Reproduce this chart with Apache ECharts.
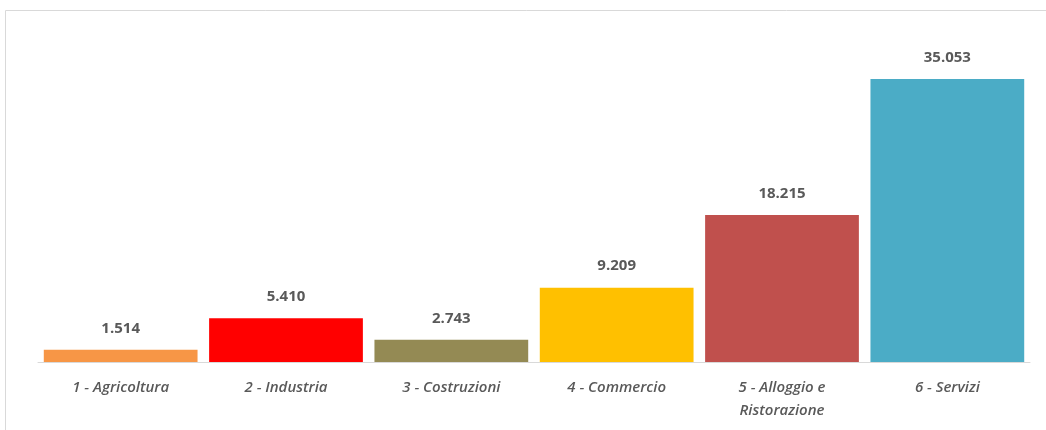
<!DOCTYPE html>
<html>
<head>
<meta charset="utf-8">
<script src="https://cdn.jsdelivr.net/npm/echarts@6/dist/echarts.min.js"></script>
<style>
  html, body { margin: 0; padding: 0; background: #fff; }
  #chart { width: 1046px; height: 430px; }
</style>
</head>
<body>
<div id="chart"></div>
<script>
var categories = ['1 - Agricoltura', '2 - Industria', '3 - Costruzioni', '4 - Commercio', '5 - Alloggio e\nRistorazione', '6 - Servizi'];
var values = [1514, 5410, 2743, 9209, 18215, 35053];
var colors = ['#F79646', '#FF0000', '#948A54', '#FFC000', '#C0504D', '#4BACC6'];

// thousands with a dot, as in the original
function fmt(v) {
    return String(v).replace(/\B(?=(\d{3})+(?!\d))/g, '.');
}

var option = {
    animation: false,
    grid: {left: 38, right: 16, top: 39, bottom: 68},
    graphic: [
        {
            type: 'rect',
            shape: {x: 5.5, y: 10.5, width: 1200, height: 600},
            style: {fill: 'none', stroke: '#d9d9d9', lineWidth: 1},
            silent: true
        }
    ],
    xAxis: {
        type: 'category',
        data: categories,
        axisLine: {lineStyle: {color: '#d9d9d9'}},
        axisTick: {show: false},
        axisLabel: {
            color: '#595959',
            fontFamily: 'Open Sans',
            fontStyle: 'italic',
            fontWeight: 600,
            fontSize: 15,
            margin: 14,
            lineHeight: 23,
            interval: 0
        }
    },
    yAxis: {
        type: 'value',
        min: 0,
        max: 40000,
        show: false
    },
    series: [
        {
            type: 'bar',
            barCategoryGap: '7%',
            data: values.map(function (v, i) {
                return {value: v, itemStyle: {color: colors[i]}};
            }),
            label: {
                show: true,
                position: 'top',
                distance: 14,
                color: '#595959',
                fontFamily: 'Open Sans',
                fontWeight: 'bold',
                fontSize: 15,
                formatter: function (p) { return fmt(p.value); }
            }
        }
    ]
};
var myChart = echarts.init(document.getElementById('chart'));
myChart.setOption(option);
</script>
</body>
</html>
